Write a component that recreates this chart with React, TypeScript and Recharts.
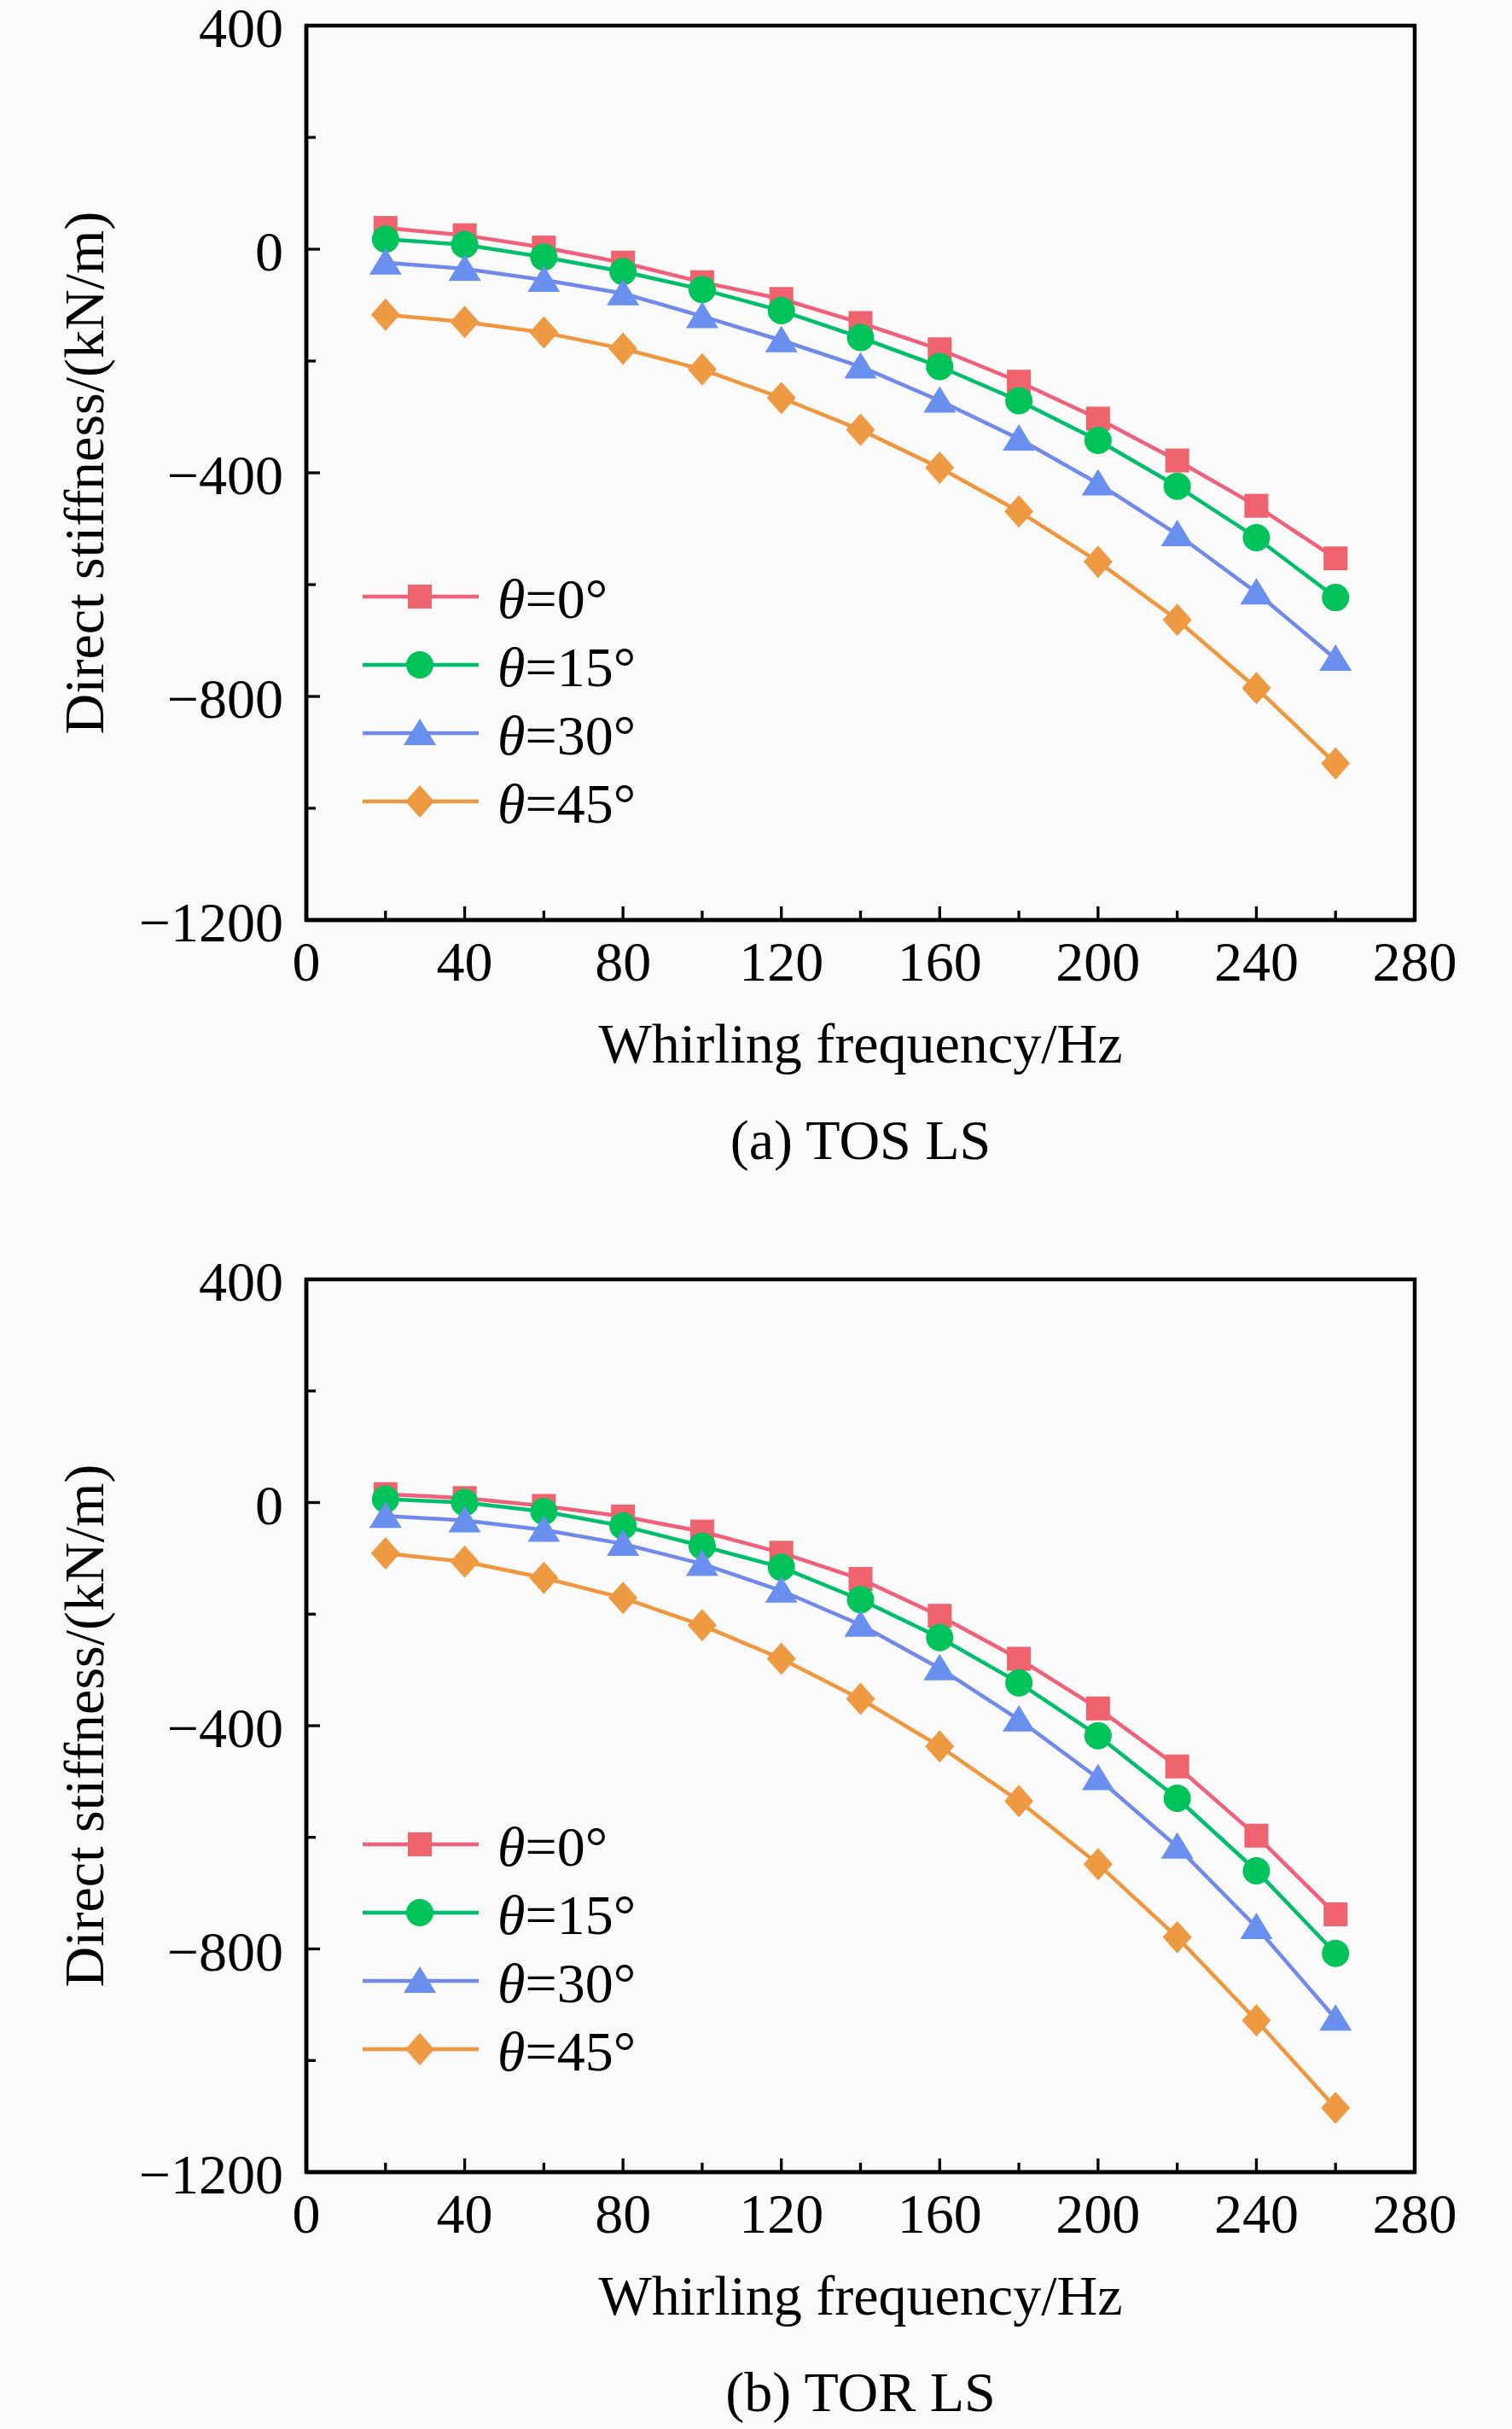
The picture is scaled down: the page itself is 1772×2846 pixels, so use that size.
import React from 'react';
import { LineChart, Line, XAxis, YAxis, ReferenceArea, Legend, Label } from 'recharts';

// Whirling frequency (Hz)
const freq = [20, 40, 60, 80, 100, 120, 140, 160, 180, 200, 220, 240, 260];

// (a) TOS LS  direct stiffness (kN/m)
const tosT0 = [38, 25, 3, -24, -59, -89, -132, -179, -237, -303, -378, -459, -553];
const tosT15 = [18, 8, -14, -40, -72, -110, -158, -210, -271, -342, -424, -516, -623];
const tosT30 = [-24, -35, -55, -79, -120, -163, -210, -271, -339, -419, -510, -614, -733];
const tosT45 = [-117, -130, -149, -178, -215, -266, -323, -391, -469, -559, -663, -785, -920];

// (b) TOR LS  direct stiffness (kN/m)
const torT0 = [15, 8, -6, -25, -52, -90, -137, -203, -280, -369, -473, -597, -738];
const torT15 = [6, 0, -16, -42, -78, -116, -174, -242, -323, -418, -530, -660, -808];
const torT30 = [-24, -32, -49, -74, -110, -158, -219, -297, -389, -494, -617, -761, -925];
const torT45 = [-91, -106, -135, -171, -220, -280, -352, -437, -535, -648, -779, -928, -1085];

const xTicks = [0, 20, 40, 60, 80, 100, 120, 140, 160, 180, 200, 220, 240, 260, 280];
const yTicks = [-1200, -1000, -800, -600, -400, -200, 0, 200, 400];

const xTitle = 'Whirling frequency/Hz';
const yTitle = 'Direct stiffness/(kN/m)';
const captionA = '(a) TOS LS';
const captionB = '(b) TOR LS';

const FONT = '"Liberation Serif", "Times New Roman", serif';
const FS = 66;

const seriesDefs = [
  { key: 't0', deg: '0', line: '#F0607A', fill: '#EE636E', shape: 'square' },
  { key: 't15', deg: '15', line: '#00BF6C', fill: '#00C45A', shape: 'circle' },
  { key: 't30', deg: '30', line: '#7189EA', fill: '#6A90EF', shape: 'triangle' },
  { key: 't45', deg: '45', line: '#F0963C', fill: '#EE9A42', shape: 'diamond' },
];

const buildRows = (a: number[], b: number[], c: number[], d: number[]) =>
  freq.map((f, i) => ({ f, t0: a[i], t15: b[i], t30: c[i], t45: d[i] }));

const dataA = buildRows(tosT0, tosT15, tosT30, tosT45);
const dataB = buildRows(torT0, torT15, torT30, torT45);

function Marker({ shape, cx, cy, fill }: any) {
  if (cx == null || cy == null) return null;
  if (shape === 'square') return <rect x={cx - 14} y={cy - 14} width={28} height={28} fill={fill} />;
  if (shape === 'circle') return <circle cx={cx} cy={cy} r={16} fill={fill} />;
  if (shape === 'triangle')
    return <polygon points={`${cx},${cy - 17} ${cx - 19},${cy + 14} ${cx + 19},${cy + 14}`} fill={fill} />;
  return <polygon points={`${cx},${cy - 19} ${cx + 17},${cy} ${cx},${cy + 19} ${cx - 17},${cy}`} fill={fill} />;
}

const makeDot = (def: any) => (props: any) => {
  const { cx, cy, index } = props;
  return (
    <g key={`${def.key}-${index}`}>
      <Marker shape={def.shape} cx={cx} cy={cy} fill={def.fill} />
    </g>
  );
};

function XTick(props: any) {
  const { x, y, payload } = props;
  const v = payload.value;
  const major = v % 40 === 0;
  return (
    <g>
      <line x1={x} x2={x} y1={y} y2={y - (major ? 16 : 11)} stroke="#000" strokeWidth={3.3} />
      {major && (
        <text x={x} y={y + 71} textAnchor="middle" fontFamily={FONT} fontSize={FS} fill="#000">
          {v}
        </text>
      )}
    </g>
  );
}

function YTick(props: any) {
  const { x, y, payload } = props;
  const v = payload.value;
  const major = v % 400 === 0;
  const label = v < 0 ? `\u2212${Math.abs(v)}` : `${v}`;
  return (
    <g>
      <line x1={x} x2={x + (major ? 16 : 11)} y1={y} y2={y} stroke="#000" strokeWidth={3.3} />
      {major && (
        <text x={x - 27} y={y + 25} textAnchor="end" fontFamily={FONT} fontSize={FS} fill="#000">
          {label}
        </text>
      )}
    </g>
  );
}

const renderLegend = (props: any) => {
  const payload = props && props.payload && props.payload.length ? props.payload : seriesDefs.map((d) => ({ dataKey: d.key }));
  return (
    <svg width={520} height={340} style={{ display: 'block', overflow: 'visible' }}>
      {payload.map((p: any, i: number) => {
        const def = seriesDefs.find((d) => d.key === p.dataKey) || seriesDefs[i];
        const y = 30 + i * 80;
        return (
          <g key={def.key}>
            <line x1={0} x2={136} y1={y} y2={y} stroke={def.line} strokeWidth={4.5} />
            <Marker shape={def.shape} cx={67} cy={y} fill={def.fill} />
            <text x={158} y={y + 25} fontFamily={FONT} fontSize={FS} fill="#000">
              <tspan fontStyle="italic">θ</tspan>
              <tspan>{`=${def.deg}°`}</tspan>
            </text>
          </g>
        );
      })}
    </svg>
  );
};

function Panel({ data, caption, plotTop, plotHeight, legendTop }: any) {
  const axisH = 296;
  const height = plotTop + plotHeight + axisH;
  return (
    <LineChart width={1772} height={height} data={data} margin={{ top: plotTop, right: 114, left: 0, bottom: 0 }}>
      <XAxis
        dataKey="f"
        type="number"
        domain={[0, 280]}
        ticks={xTicks}
        interval={0}
        tickSize={0}
        tickMargin={0}
        tick={<XTick />}
        axisLine={{ stroke: '#000', strokeWidth: 4.5 }}
        height={axisH}
      >
        <Label
          content={(p: any) => {
            const vb = p.viewBox || { x: 359, y: plotTop + plotHeight, width: 1299 };
            const cx = vb.x + vb.width / 2;
            return (
              <g>
                <text x={cx} y={vb.y + 167} textAnchor="middle" fontFamily={FONT} fontSize={FS} fill="#000">
                  {xTitle}
                </text>
                <text x={cx} y={vb.y + 280} textAnchor="middle" fontFamily={FONT} fontSize={FS} fill="#000">
                  {caption}
                </text>
              </g>
            );
          }}
        />
      </XAxis>
      <YAxis
        type="number"
        domain={[-1200, 400]}
        ticks={yTicks}
        interval={0}
        tickSize={0}
        tickMargin={0}
        tick={<YTick />}
        axisLine={{ stroke: '#000', strokeWidth: 4.5 }}
        width={359}
      >
        <Label
          content={(p: any) => {
            const vb = p.viewBox || { y: plotTop, height: plotHeight };
            const cy = vb.y + vb.height / 2;
            return (
              <text
                x={121}
                y={cy}
                textAnchor="middle"
                transform={`rotate(-90, 121, ${cy})`}
                fontFamily={FONT}
                fontSize={FS}
                fill="#000"
              >
                {yTitle}
              </text>
            );
          }}
        />
      </YAxis>
      <ReferenceArea x1={0} x2={280} y1={-1200} y2={400} fill="none" fillOpacity={0} stroke="#000" strokeWidth={4.5} />
      {seriesDefs.map((def) => (
        <Line
          key={def.key}
          dataKey={def.key}
          name={`θ=${def.deg}°`}
          stroke={def.line}
          strokeWidth={4.5}
          dot={makeDot(def)}
          activeDot={false}
          isAnimationActive={false}
          legendType="line"
        />
      ))}
      <Legend
        layout="vertical"
        align="center"
        verticalAlign="middle"
        content={renderLegend}
        wrapperStyle={{ left: 425, top: legendTop, width: 520 }}
      />
    </LineChart>
  );
}

export default function App() {
  return (
    <div
      style={{
        position: 'absolute',
        left: 0,
        top: 0,
        width: 1772,
        height: 2846,
        background: '#fafafa',
        overflow: 'hidden',
      }}
    >
      <div style={{ position: 'absolute', left: 0, top: -30 }}>
        <Panel data={dataA} caption={captionA} plotTop={60} plotHeight={1048} legendTop={699} />
      </div>
      <div style={{ position: 'absolute', left: 0, top: 1439 }}>
        <Panel data={dataB} caption={captionB} plotTop={60} plotHeight={1046} legendTop={692} />
      </div>
    </div>
  );
}
